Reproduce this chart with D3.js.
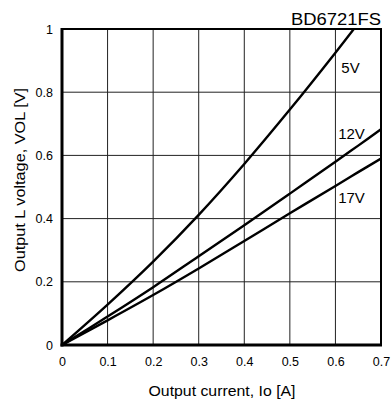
<!DOCTYPE html>
<html><head><meta charset="utf-8">
<script src="https://cdn.jsdelivr.net/npm/d3@7"></script>
<style>body{margin:0;background:#fff}svg{display:block;font-family:"Liberation Sans",Arial,sans-serif}</style>
</head><body>
<script>
const xTicks = [0, 0.1, 0.2, 0.3, 0.4, 0.5, 0.6, 0.7];
const yTicks = [0, 0.2, 0.4, 0.6, 0.8, 1];
const currents = [0, 0.1, 0.2, 0.3, 0.4, 0.5, 0.6, 0.65, 0.7];
const v5 = [0, 0.128, 0.264, 0.412, 0.573, 0.745, 0.925, 1.018, null];
const v12 = [0, 0.09, 0.183, 0.281, 0.379, 0.479, 0.58, 0.631, 0.683];
const v17 = [0, 0.078, 0.158, 0.242, 0.329, 0.417, 0.503, 0.547, 0.59];
const seriesNames = ["5V", "12V", "17V"];
const labelPos = [[0.613, 0.86], [0.606, 0.652], [0.606, 0.449]];

const W = 392, H = 401;
const svg = d3.select("body").append("svg").attr("width", W).attr("height", H);
const x = d3.scaleLinear().domain([0, 0.7]).range([62, 381]);
const y = d3.scaleLinear().domain([0, 1]).range([345, 29]);

svg.append("defs").append("clipPath").attr("id", "clip")
  .append("rect").attr("x", 62).attr("y", 29).attr("width", 319).attr("height", 316);

// grid
const gridColor = "#222";
svg.append("g").selectAll("line").data(xTicks.slice(1, -1)).join("line")
  .attr("x1", d => x(d)).attr("x2", d => x(d)).attr("y1", y(0)).attr("y2", y(1))
  .attr("stroke", gridColor).attr("stroke-width", 1);
svg.append("g").selectAll("line").data(yTicks.slice(1, -1)).join("line")
  .attr("x1", x(0)).attr("x2", x(0.7)).attr("y1", d => y(d)).attr("y2", d => y(d))
  .attr("stroke", gridColor).attr("stroke-width", 1);

// curves
const series = [v5, v12, v17];
const line = d3.line().defined(d => d[1] != null).x(d => x(d[0])).y(d => y(d[1])).curve(d3.curveCatmullRom.alpha(0.5));
svg.append("g").attr("clip-path", "url(#clip)").selectAll("path").data(series).join("path")
  .attr("d", s => line(currents.map((c, i) => [c, s[i]])))
  .attr("fill", "none").attr("stroke", "#000").attr("stroke-width", 2.4);

// frame
svg.append("line").attr("x1", x(0)).attr("x2", x(0.7)).attr("y1", y(1)).attr("y2", y(1)).attr("stroke", "#000").attr("stroke-width", 2);
svg.append("line").attr("x1", x(0.7)).attr("x2", x(0.7)).attr("y1", y(1) - 1).attr("y2", y(0)).attr("stroke", "#000").attr("stroke-width", 2);
svg.append("line").attr("x1", x(0)).attr("x2", x(0)).attr("y1", y(1) - 1).attr("y2", y(0) + 1.5).attr("stroke", "#000").attr("stroke-width", 3);
svg.append("line").attr("x1", x(0) - 1.5).attr("x2", x(0.7) + 1).attr("y1", y(0)).attr("y2", y(0)).attr("stroke", "#000").attr("stroke-width", 3);

// axes (labels only)
const xAxis = d3.axisBottom(x).tickValues(xTicks).tickSize(0).tickPadding(12).tickFormat(d => d === 0 ? "0" : d3.format(".1f")(d));
const gx = svg.append("g").attr("transform", `translate(0,${y(0)})`).call(xAxis);
const yAxis = d3.axisLeft(y).tickValues(yTicks).tickSize(0).tickPadding(9).tickFormat(d => (d === 0 || d === 1) ? String(d) : d3.format(".1f")(d));
const gy = svg.append("g").attr("transform", `translate(${x(0)},0)`).call(yAxis);
[gx, gy].forEach(g => {
  g.select(".domain").remove();
  g.selectAll("text").attr("font-size", 12.5).attr("font-family", "Liberation Sans, Arial, sans-serif").attr("fill", "#000");
});

// series labels
svg.append("g").selectAll("text").data(seriesNames).join("text")
  .attr("x", (d, i) => x(labelPos[i][0])).attr("y", (d, i) => y(labelPos[i][1]))
  .attr("font-size", 15).attr("fill", "#000").text(d => d);

// title
svg.append("text").attr("x", 381).attr("y", 24.5).attr("text-anchor", "end")
  .attr("font-size", 16).attr("textLength", 90).attr("lengthAdjust", "spacingAndGlyphs")
  .attr("fill", "#000").text("BD6721FS");

// axis titles
svg.append("text").attr("x", 222).attr("y", 396).attr("text-anchor", "middle")
  .attr("font-size", 15).attr("textLength", 147).attr("lengthAdjust", "spacingAndGlyphs")
  .attr("fill", "#000").text("Output current, Io [A]");
svg.append("text").attr("transform", `translate(25,180) rotate(-90)`).attr("text-anchor", "middle")
  .attr("font-size", 15).attr("textLength", 184).attr("lengthAdjust", "spacingAndGlyphs")
  .attr("fill", "#000").text("Output L voltage, VOL [V]");
</script>
</body></html>
